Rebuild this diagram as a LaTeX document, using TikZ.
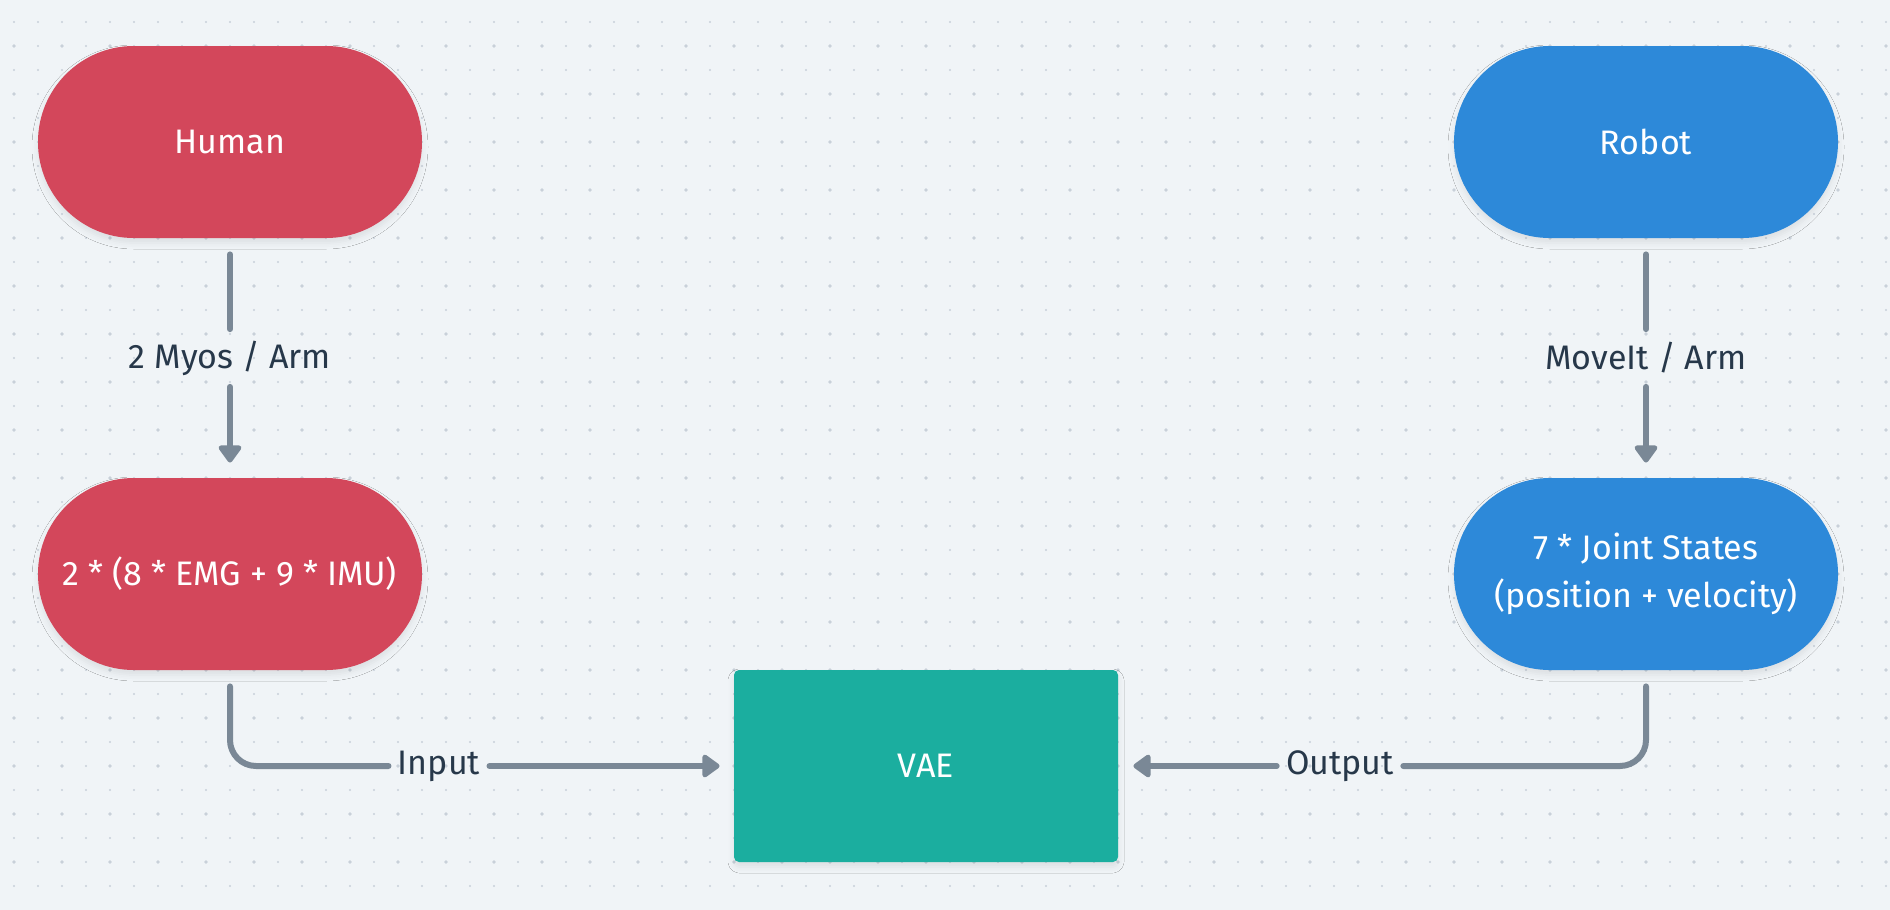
\documentclass[tikz,border=0pt]{standalone}
\usepackage{fontspec}
\setmainfont{Fira Sans}
\usetikzlibrary{arrows.meta,shadows.blur}

\definecolor{canvas}{HTML}{F0F4F7}
\definecolor{griddot}{HTML}{C8D0D9}
\definecolor{humanred}{HTML}{D3475B}
\definecolor{robotblue}{HTML}{2D89D9}
\definecolor{vaeteal}{HTML}{1BAE9F}
\definecolor{wiregray}{HTML}{7A8896}
\definecolor{ink}{HTML}{27384A}

\tikzset{
    softshadow/.style={blur shadow={shadow xshift=0pt,shadow yshift=-2.5pt,shadow blur radius=3pt,shadow opacity=8}},
    pill/.style={rectangle,rounded corners=47.9pt,minimum width=192pt,minimum height=96pt,
        inner sep=0pt,text=white,align=center,font=\fontsize{17}{24}\selectfont,softshadow},
    modelbox/.style={rectangle,rounded corners=2.5pt,minimum width=192pt,minimum height=96pt,
        inner sep=0pt,fill=vaeteal,text=white,font=\fontsize{17}{24}\selectfont,softshadow},
    wire/.style={draw=wiregray,line width=3pt,line cap=round},
    tip/.style={-{Triangle[length=9.5pt,width=13pt,round]}},
    wirelabel/.style={inner xsep=4.5pt,inner ysep=0pt,minimum height=28.5pt,text=ink,
        font=\fontsize{17}{24}\selectfont}
}

\begin{document}
\begin{tikzpicture}[x=0.5pt,y=-0.5pt]
                \fill[canvas] (0,0) rectangle (1890,910);
                \useasboundingbox (0,0) rectangle (1890,910);
                \foreach \i in {0,...,78}{
                    \foreach \j in {0,...,36}{
                        \fill[griddot] (14+24*\i,22+24*\j) circle (0.6pt);
                    }
                }
                \foreach \i in {0,2,...,78}{
                    \foreach \j in {1,3,...,35}{
                        \fill[griddot] (14+24*\i,22+24*\j) circle (0.9pt);
                    }
                }

                \node[pill,fill=humanred] (human) at (230,142) {Human};
                \node[pill,fill=humanred] (emg) at (230,574) {2 * (8 * EMG + 9 * IMU)};
                \node[pill,fill=robotblue] (robot) at (1646,142) {Robot};
                \node[pill,fill=robotblue] (joints) at (1646,574) {7 * Joint States\\(position + velocity)};
                \node[modelbox] (vae) at (926,766) {VAE};

                \node[wirelabel] (myos) at (230,358) {2 Myos / Arm};
                \node[wirelabel] (moveit) at (1646,358) {MoveIt / Arm};
                \node[wirelabel] (input) at (439,766) {Input};
                \node[wirelabel] (output) at (1340,766) {Output};

                \draw[wire,shorten <=8pt] (human) -- (myos);
                \draw[wire,tip,shorten >=7.5pt] (myos) -- (emg);
                \draw[wire,shorten <=8pt] (robot) -- (moveit);
                \draw[wire,tip,shorten >=7.5pt] (moveit) -- (joints);

                \draw[wire,rounded corners=13pt,shorten <=8pt] (emg.south) |- (input.west);
                \draw[wire,tip,shorten >=7pt] (input) -- (vae);
                \draw[wire,rounded corners=13pt,shorten <=8pt] (joints.south) |- (output.east);
                \draw[wire,tip,shorten >=7.5pt] (output) -- (vae);
            \end{tikzpicture}
\end{document}
